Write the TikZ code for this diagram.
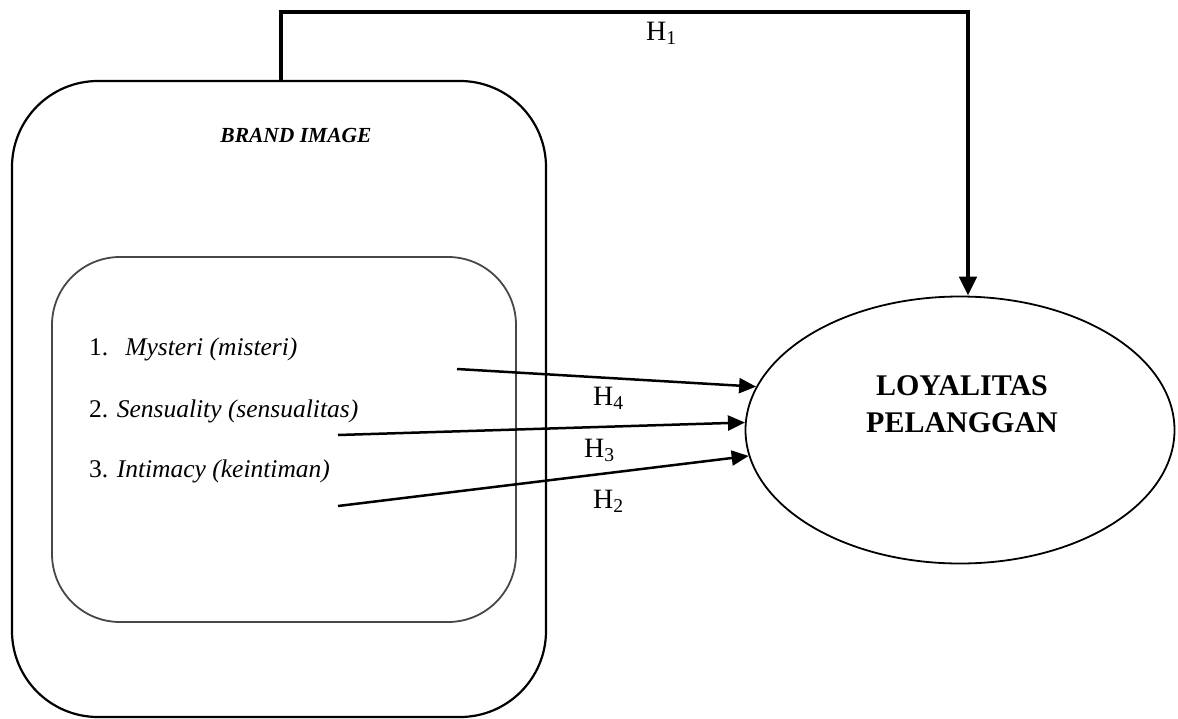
\documentclass[tikz,border=0pt]{standalone}
\usepackage{fontspec}
\setmainfont{Liberation Serif}
\usetikzlibrary{shapes.geometric,arrows.meta}
\begin{document}
\begin{tikzpicture}[x=1pt,y=-1pt,
  outerbox/.style={draw=black, line width=2.2pt, rounded corners=86pt, minimum width=534pt, minimum height=636pt, inner sep=0pt},
  innerbox/.style={draw=black!72, line width=1.8pt, rounded corners=68pt, minimum width=464pt, minimum height=365pt, inner sep=0pt},
  target/.style={draw=black, ellipse, line width=1.8pt, minimum width=429pt, minimum height=267pt, inner sep=0pt},
  itemtxt/.style={anchor=base west, inner sep=0pt, font=\fontsize{25.5}{30}\selectfont},
  hlab/.style={anchor=base west, inner sep=0pt, font=\fontsize{28}{32}\selectfont},
  thinarrow/.style={line width=2.5pt, -{Triangle[length=17pt,width=15pt]}},
  thickarrow/.style={line width=4.8pt, -{Triangle[length=19pt,width=17pt]}}
]
\useasboundingbox (0,0) rectangle (1178,718);

\node[outerbox] (brand) at (279,399) {};
\node[innerbox] (inner) at (284,439.5) {};
\node[target] (loyal) at (960,430) {};

\node[anchor=base, inner sep=0pt, font=\fontsize{21.5}{26}\selectfont\bfseries\itshape] (brandtitle) at (296,142) {BRAND IMAGE};

\node[itemtxt] (i1) at (89,355) {1.\hspace{17pt}\textit{Mysteri (misteri)}};
\node[itemtxt] (i2) at (89,417) {2. \textit{Sensuality (sensualitas)}};
\node[itemtxt] (i3) at (89,477) {3. \textit{Intimacy (keintiman)}};

\node[align=center, inner sep=0pt, font=\fontsize{30}{37}\selectfont\bfseries] (loyaltxt) at (962,404.5) {LOYALITAS\\PELANGGAN};

\coordinate (s4) at (457,369);
\coordinate (s3) at (338,435);
\coordinate (s2) at (338,506);
\draw[thinarrow] (s4) -- (loyal.168.4);
\draw[thinarrow] (s3) -- (loyal.178.4);
\draw[thinarrow] (s2) -- (loyal.187.1);

\coordinate (h1a) at (281,81);
\coordinate (h1b) at (968,12);
\draw[thickarrow] (h1a) |- (h1b) -- (h1b |- loyal.north);

\node[hlab] (H1) at (646,40) {H\textsubscript{1}};
\node[hlab] (H4) at (593,405) {H\textsubscript{4}};
\node[hlab] (H3) at (584,457) {H\textsubscript{3}};
\node[hlab] (H2) at (593,508) {H\textsubscript{2}};
\end{tikzpicture}
\end{document}
